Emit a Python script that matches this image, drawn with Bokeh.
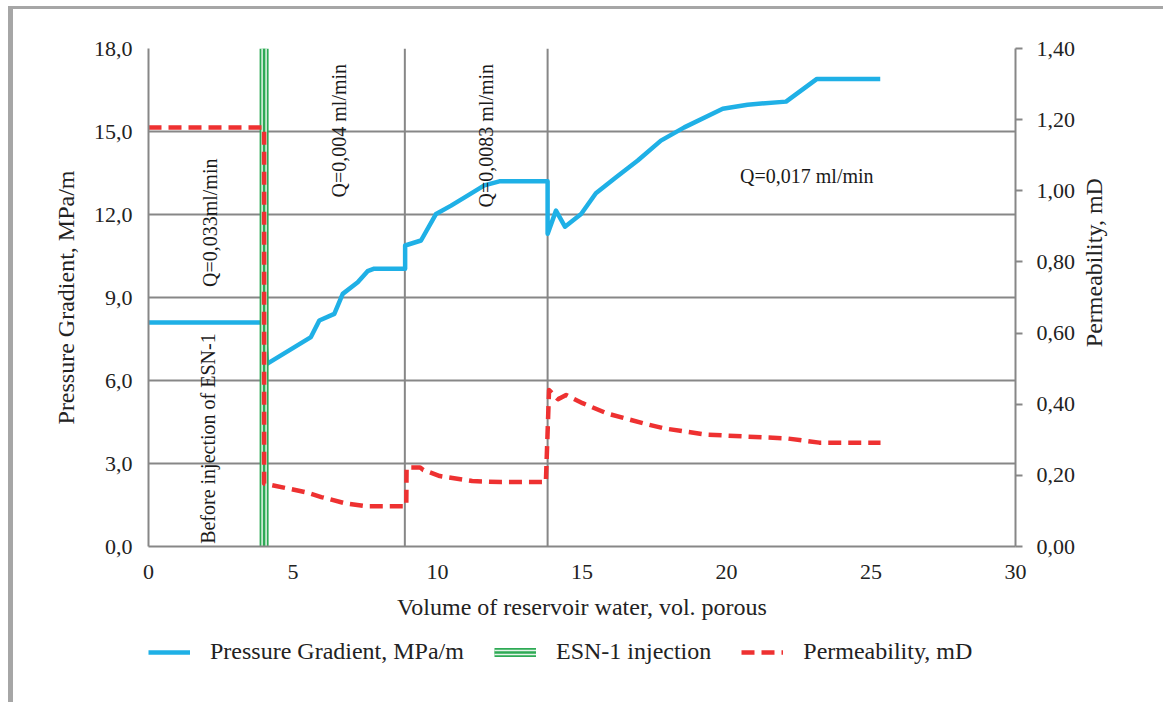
import numpy as np
from bokeh.plotting import figure
from bokeh.layouts import column, row
from bokeh.models import (Range1d, LinearAxis, FixedTicker, CustomJSTickFormatter,
                          Legend, LegendItem, ColumnDataSource, Label)
from bokeh.core.properties import value
from bokeh.embed import file_html
from bokeh.resources import INLINE

# ---------------- data ----------------
pg_x = [0, 4.0, 4.1, 5.62, 5.91, 6.43, 6.72, 7.24, 7.58, 7.81, 8.88, 8.88, 9.43, 9.95,
        10.47, 11.04, 11.62, 12.14, 13.81, 13.81, 14.1, 14.41, 14.97, 15.48, 16.18,
        16.93, 17.73, 18.54, 19.87, 20.73, 22.06, 23.13, 25.32]
pg_y = [8.1, 8.1, 6.6, 7.57, 8.17, 8.41, 9.13, 9.55, 9.95, 10.04, 10.04, 10.88, 11.06, 12.02,
        12.32, 12.68, 13.05, 13.2, 13.2, 11.3, 12.14, 11.56, 12.02, 12.77, 13.35,
        13.95, 14.67, 15.15, 15.82, 15.97, 16.08, 16.9, 16.9]

perm_x = [0, 4.0, 4.0, 5.42, 5.98, 6.83, 7.53, 8.59, 8.92, 8.93, 9.4, 9.51, 10.08, 11.2,
          12.2, 13.75, 13.86, 14.17, 14.45, 15.02, 15.87, 17.14, 17.84, 19.26, 20.67,
          22.08, 23.21, 25.33]
perm_y = [1.178, 1.178, 0.177, 0.153, 0.139, 0.121, 0.113, 0.113, 0.113, 0.222, 0.222, 0.215,
          0.198, 0.184, 0.181, 0.181, 0.44, 0.414, 0.426, 0.403, 0.374, 0.346, 0.332,
          0.315, 0.309, 0.304, 0.292, 0.292]

esn_injection_x = [4.0]
rate_change_x = [8.87, 13.81]

x_ticks = [0, 5, 10, 15, 20, 25, 30]
y_ticks = [0, 3, 6, 9, 12, 15, 18]
perm_ticks = [0, 0.2, 0.4, 0.6, 0.8, 1.0, 1.2, 1.4]

annot_text = ["Before injection of ESN-1", "Q=0,033ml/min", "Q=0,004 ml/min",
              "Q=0,0083 ml/min", "Q=0,017 ml/min"]
legend_labels = ["Pressure Gradient, MPa/m", "ESN-1 injection", "Permeability, mD"]

# ---------------- styles ----------------
FONT = "Liberation Serif"
GRAY = "#878787"
BLUE = "#1fb0e6"
RED = "#ee3131"
GREEN = "#2eaa55"
PALE = "#e6f5ea"
TXT = "#222222"

# ---------------- main figure ----------------
p = figure(width=1065, height=621, x_range=Range1d(0, 30), y_range=Range1d(0, 18),
           output_backend="svg", toolbar_location=None,
           min_border_left=135, min_border_right=63, min_border_top=39,
           min_border_bottom=84)
p.outline_line_color = None
p.extra_y_ranges = {"perm": Range1d(0, 1.4)}

p.xgrid.grid_line_color = None
p.ygrid.ticker = FixedTicker(ticks=y_ticks)
p.ygrid.grid_line_color = GRAY
p.ygrid.grid_line_width = 2

p.xaxis.ticker = FixedTicker(ticks=x_ticks)
p.yaxis.ticker = FixedTicker(ticks=y_ticks)
p.yaxis.formatter = CustomJSTickFormatter(code="return tick.toFixed(1).replace('.', ',');")
for ax in (p.xaxis[0], p.yaxis[0]):
    ax.axis_line_color = GRAY
    ax.axis_line_width = 2
    ax.major_tick_line_color = None
    ax.major_tick_out = 0
    ax.major_tick_in = 0
    ax.minor_tick_line_color = None
    ax.major_label_text_font = FONT
    ax.major_label_text_font_size = "22px"
    ax.major_label_text_color = TXT
    ax.axis_label_text_font = FONT
    ax.axis_label_text_font_size = "24px"
    ax.axis_label_text_font_style = "normal"
    ax.axis_label_text_color = TXT
p.xaxis.axis_label = "Volume of reservoir water, vol. porous"
p.yaxis.axis_label = "Pressure Gradient, MPa/m"
p.xaxis.major_label_standoff = 18
p.xaxis.axis_label_standoff = 12
p.yaxis.major_label_standoff = 16
p.yaxis.axis_label_standoff = 12

rax = LinearAxis(y_range_name="perm", ticker=FixedTicker(ticks=perm_ticks),
                 formatter=CustomJSTickFormatter(code="return tick.toFixed(2).replace('.', ',');"))
rax.axis_line_color = GRAY
rax.axis_line_width = 2
rax.major_tick_line_color = GRAY
rax.major_tick_line_width = 2
rax.major_tick_out = 7
rax.major_tick_in = 0
rax.minor_tick_line_color = None
rax.major_label_text_font = FONT
rax.major_label_text_font_size = "22px"
rax.major_label_text_color = TXT
rax.major_label_standoff = 14
p.add_layout(rax, "right")

# vertical rate-change lines
p.segment(x0=rate_change_x, y0=[y_ticks[0]] * len(rate_change_x),
          x1=rate_change_x, y1=[y_ticks[-1]] * len(rate_change_x),
          line_color=GRAY, line_width=2)

# pressure gradient
p.line(pg_x, pg_y, line_color=BLUE, line_width=4.5, line_join="round")

# ESN-1 injection (triple line)
esn_src = ColumnDataSource(dict(x=esn_injection_x, y0=[y_ticks[0]], y1=[y_ticks[-1]]))
p.segment(x0="x", y0="y0", x1="x", y1="y1", source=esn_src, line_color=GREEN, line_width=9)
p.segment(x0="x", y0="y0", x1="x", y1="y1", source=esn_src, line_color=PALE, line_width=5.5)
p.segment(x0="x", y0="y0", x1="x", y1="y1", source=esn_src, line_color=GREEN, line_width=2.5)

# permeability
p.line(perm_x, perm_y, y_range_name="perm", line_color=RED, line_width=4.5,
       line_dash="13 7", line_join="round")

# annotations
ann_src = ColumnDataSource(dict(
    x=[2.05, 2.12, 6.6, 11.68, 22.78],
    y=[3.9, 11.7, 15.03, 14.85, 13.38],
    text=annot_text,
    angle=[np.pi / 2, np.pi / 2, np.pi / 2, np.pi / 2, 0.0],
))
p.text(x="x", y="y", text="text", angle="angle", source=ann_src,
       text_font=value(FONT), text_font_size="20px", text_color="#1a1a1a",
       text_align="center", text_baseline="middle")

# ---------------- right title strip ----------------
side = figure(width=85, height=621, x_range=Range1d(0, 85), y_range=Range1d(0, 18),
              output_backend="svg", toolbar_location=None,
              x_axis_type=None, y_axis_type=None,
              min_border_left=0, min_border_right=0, min_border_top=39, min_border_bottom=84)
side.outline_line_color = None
side.xgrid.grid_line_color = None
side.ygrid.grid_line_color = None
side.add_layout(Label(x=15, y=10.26, text="Permeability, mD", angle=np.pi / 2,
                      text_font=FONT, text_font_size="24px", text_color=TXT,
                      text_align="center", text_baseline="middle"))

# ---------------- legend strip ----------------
lg = figure(width=1150, height=72, x_range=Range1d(0, 1), y_range=Range1d(0, 1),
            output_backend="svg", toolbar_location=None,
            x_axis_type=None, y_axis_type=None,
            min_border_left=135, min_border_right=0, min_border_top=0, min_border_bottom=0)
lg.outline_line_color = None
lg.xgrid.grid_line_color = None
lg.ygrid.grid_line_color = None

nan = [np.nan]
k_pg = lg.line(nan, nan, line_color=BLUE, line_width=4.5)
k_g1 = lg.line(nan, nan, line_color=GREEN, line_width=9)
k_g2 = lg.line(nan, nan, line_color=PALE, line_width=5.5)
k_g3 = lg.line(nan, nan, line_color=GREEN, line_width=2.5)
k_perm = lg.line(nan, nan, line_color=RED, line_width=4.5, line_dash="13 7")

legend = Legend(items=[
    LegendItem(label=legend_labels[0], renderers=[k_pg]),
    LegendItem(label=legend_labels[1], renderers=[k_g1, k_g2, k_g3]),
    LegendItem(label=legend_labels[2], renderers=[k_perm]),
], orientation="horizontal", location=(0, 37))
legend.label_text_font = FONT
legend.label_text_font_size = "24px"
legend.label_text_color = TXT
legend.glyph_width = 42
legend.glyph_height = 24
legend.label_height = 24
legend.spacing = 30
legend.label_standoff = 20
legend.border_line_color = None
legend.background_fill_alpha = 0
legend.margin = 0
legend.padding = 0
lg.add_layout(legend)

layout = column(row(p, side, spacing=0), lg, spacing=0,
                styles={"margin-left": "8px", "margin-top": "6px",
                        "border-left": "5px solid #a6a6a6",
                        "border-top": "3px solid #a6a6a6"})

open("out.html", "w").write(file_html(layout, INLINE))
